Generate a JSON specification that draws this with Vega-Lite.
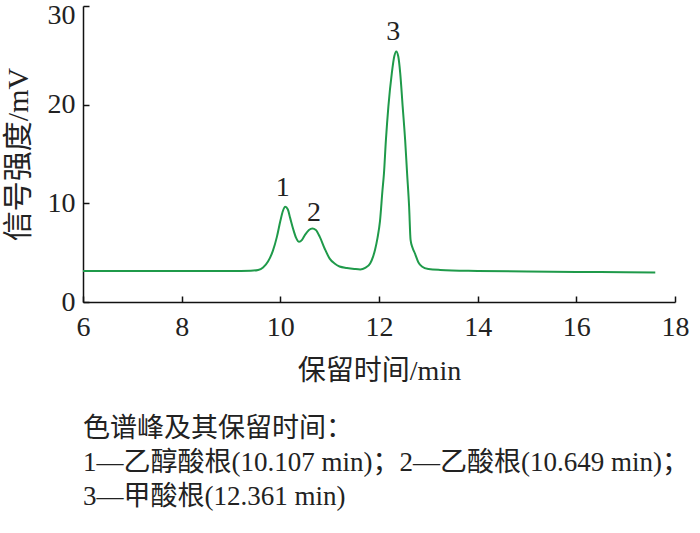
{
  "$schema": "https://vega.github.io/schema/vega-lite/v6.json",
  "width": 592,
  "height": 296,
  "autosize": {"type": "none"},
  "padding": {"left": 83, "top": 6, "right": 25, "bottom": 231},
  "background": "white",
  "config": {"view": {"stroke": null}, "font": "Liberation Serif, Noto Sans CJK SC"},
  "title": {
    "text": ["色谱峰及其保留时间：", "1—乙醇酸根(10.107 min)；2—乙酸根(10.649 min)；", "3—甲酸根(12.361 min)"],
    "orient": "bottom",
    "anchor": "start",
    "frame": "group",
    "align": "left",
    "fontSize": 27,
    "fontWeight": "normal",
    "lineHeight": 34,
    "offset": 31,
    "color": "#222222",
    "font": "Liberation Serif, Noto Sans CJK SC"
  },
  "layer": [
    {
      "data": {"values": [
        {"t": 6.0, "s": 3.15}, {"t": 7.0, "s": 3.15}, {"t": 8.0, "s": 3.15}, {"t": 9.0, "s": 3.15},
        {"t": 9.4, "s": 3.17}, {"t": 9.55, "s": 3.25}, {"t": 9.65, "s": 3.5}, {"t": 9.75, "s": 4.1},
        {"t": 9.85, "s": 5.2}, {"t": 9.93, "s": 6.6}, {"t": 10.0, "s": 8.2}, {"t": 10.05, "s": 9.2},
        {"t": 10.1, "s": 9.65}, {"t": 10.15, "s": 9.4}, {"t": 10.2, "s": 8.5}, {"t": 10.26, "s": 7.4},
        {"t": 10.32, "s": 6.5}, {"t": 10.38, "s": 6.1}, {"t": 10.44, "s": 6.3}, {"t": 10.5, "s": 6.8},
        {"t": 10.58, "s": 7.3}, {"t": 10.65, "s": 7.45}, {"t": 10.72, "s": 7.3}, {"t": 10.8, "s": 6.6},
        {"t": 10.9, "s": 5.4}, {"t": 11.0, "s": 4.4}, {"t": 11.1, "s": 3.9}, {"t": 11.2, "s": 3.6},
        {"t": 11.35, "s": 3.45}, {"t": 11.5, "s": 3.35}, {"t": 11.62, "s": 3.3}, {"t": 11.72, "s": 3.45},
        {"t": 11.82, "s": 3.9}, {"t": 11.88, "s": 4.6}, {"t": 11.92, "s": 5.3}, {"t": 11.97, "s": 6.5},
        {"t": 12.02, "s": 8.2}, {"t": 12.07, "s": 11.3}, {"t": 12.1, "s": 13.0}, {"t": 12.14, "s": 16.4},
        {"t": 12.19, "s": 19.8}, {"t": 12.26, "s": 23.2}, {"t": 12.31, "s": 24.9}, {"t": 12.35, "s": 25.4},
        {"t": 12.39, "s": 24.9}, {"t": 12.43, "s": 23.2}, {"t": 12.48, "s": 19.8}, {"t": 12.53, "s": 16.4},
        {"t": 12.57, "s": 13.0}, {"t": 12.61, "s": 9.7}, {"t": 12.64, "s": 6.3}, {"t": 12.68, "s": 5.5},
        {"t": 12.73, "s": 4.9}, {"t": 12.8, "s": 4.0}, {"t": 12.87, "s": 3.6}, {"t": 13.0, "s": 3.35},
        {"t": 13.24, "s": 3.25}, {"t": 14.0, "s": 3.15}, {"t": 15.0, "s": 3.08}, {"t": 16.0, "s": 3.05},
        {"t": 17.0, "s": 3.02}, {"t": 17.6, "s": 3.0}
      ]},
      "mark": {"type": "line", "color": "#1f9a4a", "strokeWidth": 2, "interpolate": "monotone"},
      "encoding": {
        "x": {
          "field": "t", "type": "quantitative",
          "scale": {"domain": [6, 18], "nice": false, "zero": false},
          "axis": {
            "title": "保留时间/min", "values": [6, 8, 10, 12, 14, 16, 18], "grid": false,
            "labelFlush": false,
            "tickSize": -6, "tickWidth": 1.5, "tickColor": "#111111",
            "domainColor": "#111111", "domainWidth": 1.5,
            "labelFontSize": 28, "labelColor": "#222222", "labelPadding": 17,
            "labelFont": "Liberation Serif",
            "titleFontSize": 28, "titleFontWeight": "normal", "titleColor": "#222222", "titlePadding": 16,
            "titleFont": "Liberation Serif, Noto Sans CJK SC"
          }
        },
        "y": {
          "field": "s", "type": "quantitative",
          "scale": {"domain": [0, 30], "nice": false},
          "axis": {
            "title": "信号强度/mV", "values": [0, 10, 20, 30], "grid": false,
            "labelFlush": false,
            "tickSize": -6, "tickWidth": 1.5, "tickColor": "#111111",
            "domainColor": "#111111", "domainWidth": 1.5,
            "labelFontSize": 28, "labelColor": "#222222", "labelPadding": 14,
            "labelOffset": {"condition": {"test": "datum.value === 30", "value": 9}, "value": 0},
            "labelFont": "Liberation Serif",
            "titleFontSize": 30, "titleFontWeight": "normal", "titleColor": "#222222", "titlePadding": 14,
            "titleFont": "Liberation Serif, Noto Sans CJK SC"
          }
        }
      }
    },
    {
      "data": {"values": [
        {"t": 10.05, "s": 11.6, "label": "1"},
        {"t": 10.68, "s": 9.0, "label": "2"},
        {"t": 12.29, "s": 27.4, "label": "3"}
      ]},
      "mark": {"type": "text", "fontSize": 28, "font": "Liberation Serif", "color": "#222222", "baseline": "middle", "align": "center"},
      "encoding": {
        "x": {"field": "t", "type": "quantitative"},
        "y": {"field": "s", "type": "quantitative"},
        "text": {"field": "label"}
      }
    }
  ]
}
